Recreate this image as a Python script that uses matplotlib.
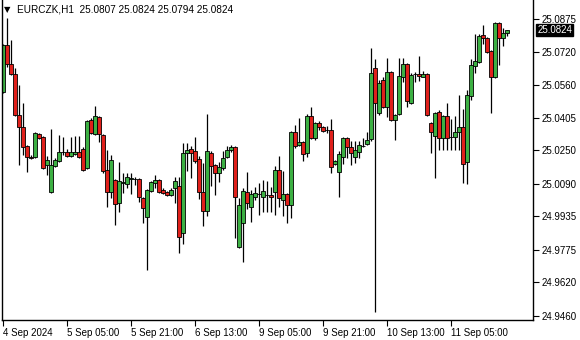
import matplotlib
matplotlib.use("Agg")
import matplotlib.pyplot as plt
import numpy as np

# EURCZK H1 candles, 4 Sep 13:00 .. 11 Sep 19:00
opens = [25.0527, 25.0751, 25.0661, 25.0613, 25.0418, 25.0361, 25.0270, 25.0218, 25.0218, 25.0327,
         25.0313, 25.0180, 25.0051, 25.0175, 25.0199, 25.0241, 25.0241, 25.0222, 25.0232, 25.0241,
         25.0256, 25.0165, 25.0394, 25.0327, 25.0408, 25.0322, 25.0156, 25.0051, 25.0108, 24.9998,
         25.0094, 25.0089, 25.0113, 25.0113, 25.0113, 25.0022, 24.9932, 25.0056, 25.0094, 25.0108,
         25.0060, 25.0051, 25.0037, 25.0070, 25.0079, 24.9856, 25.0237, 25.0256, 25.0246, 25.0208,
         25.0051, 24.9960, 25.0237, 25.0180, 25.0141, 25.0165, 25.0218, 25.0251, 25.0265, 24.9789,
         24.9903, 25.0051, 24.9979, 25.0027, 25.0041, 25.0027, 25.0037, 25.0037, 25.0051, 25.0156,
         25.0013, 25.0041, 24.9989, 25.0337, 25.0275, 25.0289, 25.0237, 25.0413, 25.0308, 25.0380,
         25.0361, 25.0346, 25.0346, 25.0184, 25.0146, 25.0218, 25.0308, 25.0265, 25.0218, 25.0241,
         25.0270, 25.0280, 25.0303, 25.0642, 25.0427, 25.0584, 25.0456, 25.0623, 25.0394, 25.0422,
         25.0599, 25.0661, 25.0475, 25.0613, 25.0613, 25.0599, 25.0613, 25.0380, 25.0318, 25.0432,
         25.0308, 25.0413, 25.0313, 25.0313, 25.0337, 25.0361, 25.0194, 25.0508, 25.0651, 25.0670,
         25.0799, 25.0784, 25.0723, 25.0599, 25.0856, 25.0784, 25.0807]
highs = [25.0756, 25.0880, 25.0775, 25.0642, 25.0561, 25.0475, 25.0275, 25.0227, 25.0337, 25.0332,
         25.0318, 25.0222, 25.0351, 25.0213, 25.0322, 25.0313, 25.0256, 25.0313, 25.0318, 25.0318,
         25.0265, 25.0394, 25.0403, 25.0461, 25.0413, 25.0327, 25.0251, 25.0227, 25.0113, 25.0194,
         25.0141, 25.0141, 25.0141, 25.0122, 25.0118, 25.0027, 25.0065, 25.0103, 25.0132, 25.0113,
         25.0070, 25.0056, 25.0070, 25.0122, 25.0122, 25.0284, 25.0284, 25.0270, 25.0313, 25.0222,
         25.0189, 25.0422, 25.0246, 25.0184, 25.0194, 25.0246, 25.0270, 25.0275, 25.0270, 25.0022,
         25.0070, 25.0146, 25.0060, 25.0075, 25.0094, 25.0108, 25.0103, 25.0075, 25.0175, 25.0222,
         25.0151, 25.0046, 25.0341, 25.0370, 25.0403, 25.0294, 25.0422, 25.0456, 25.0384, 25.0389,
         25.0365, 25.0365, 25.0399, 25.0203, 25.0246, 25.0313, 25.0313, 25.0294, 25.0294, 25.0294,
         25.0308, 25.0337, 25.0737, 25.0684, 25.0584, 25.0599, 25.0689, 25.0627, 25.0422, 25.0689,
         25.0689, 25.0665, 25.0618, 25.0623, 25.0699, 25.0628, 25.0618, 25.0384, 25.0432, 25.0442,
         25.0418, 25.0475, 25.0399, 25.0413, 25.0513, 25.0446, 25.0537, 25.0684, 25.0804, 25.0804,
         25.0846, 25.0789, 25.0728, 25.0861, 25.0861, 25.0832, 25.0824]
lows = [25.0522, 25.0646, 25.0608, 25.0413, 25.0180, 25.0227, 25.0146, 25.0208, 25.0213, 25.0303,
        25.0160, 25.0132, 25.0046, 25.0170, 25.0194, 25.0227, 25.0218, 25.0218, 25.0227, 25.0213,
        25.0151, 25.0160, 25.0327, 25.0322, 25.0289, 25.0141, 24.9979, 25.0022, 24.9894, 24.9956,
        25.0046, 25.0070, 25.0041, 25.0084, 25.0003, 24.9903, 24.9679, 25.0051, 25.0070, 25.0046,
        25.0041, 25.0032, 25.0032, 24.9998, 24.9760, 24.9803, 25.0151, 25.0118, 25.0189, 25.0018,
        24.9889, 24.9937, 25.0079, 25.0037, 25.0098, 25.0156, 25.0213, 25.0241, 24.9832, 24.9784,
        24.9717, 24.9970, 24.9908, 25.0013, 24.9941, 24.9956, 24.9956, 24.9956, 24.9941, 24.9979,
        24.9937, 24.9903, 24.9927, 25.0260, 25.0270, 25.0199, 25.0218, 25.0303, 25.0299, 25.0346,
        25.0337, 25.0332, 25.0141, 25.0180, 25.0027, 25.0184, 25.0213, 25.0180, 25.0189, 25.0213,
        25.0265, 25.0275, 25.0294, 24.9479, 25.0418, 25.0451, 25.0408, 25.0389, 25.0299, 25.0418,
        25.0575, 25.0456, 25.0470, 25.0575, 25.0580, 25.0599, 25.0413, 25.0237, 25.0118, 25.0251,
        25.0251, 25.0251, 25.0251, 25.0251, 25.0251, 25.0094, 25.0089, 25.0489, 25.0618, 25.0665,
        25.0756, 25.0713, 25.0427, 25.0594, 25.0656, 25.0746, 25.0794]
closes = [25.0751, 25.0661, 25.0613, 25.0418, 25.0361, 25.0265, 25.0218, 25.0213, 25.0332, 25.0308,
          25.0165, 25.0203, 25.0180, 25.0203, 25.0241, 25.0242, 25.0222, 25.0241, 25.0241, 25.0218,
          25.0156, 25.0389, 25.0332, 25.0413, 25.0327, 25.0151, 25.0051, 25.0203, 24.9994, 25.0103,
          25.0098, 25.0122, 25.0118, 25.0112, 25.0027, 24.9975, 25.0060, 25.0098, 25.0108, 25.0051,
          25.0046, 25.0037, 25.0060, 25.0103, 24.9836, 25.0237, 25.0251, 25.0237, 25.0199, 25.0051,
          24.9960, 25.0246, 25.0175, 25.0141, 25.0170, 25.0213, 25.0251, 25.0265, 25.0027, 24.9989,
          25.0056, 24.9998, 25.0041, 25.0046, 25.0042, 25.0056, 25.0036, 25.0027, 25.0156, 25.0022,
          25.0041, 24.9989, 25.0337, 25.0270, 25.0289, 25.0232, 25.0413, 25.0308, 25.0380, 25.0361,
          25.0341, 25.0347, 25.0170, 25.0199, 25.0232, 25.0308, 25.0265, 25.0237, 25.0251, 25.0275,
          25.0271, 25.0299, 25.0618, 25.0475, 25.0570, 25.0456, 25.0623, 25.0394, 25.0418, 25.0603,
          25.0661, 25.0484, 25.0608, 25.0612, 25.0603, 25.0613, 25.0418, 25.0337, 25.0427, 25.0308,
          25.0413, 25.0308, 25.0312, 25.0337, 25.0361, 25.0184, 25.0513, 25.0656, 25.0675, 25.0794,
          25.0784, 25.0718, 25.0599, 25.0856, 25.0784, 25.0808, 25.0824]

time_label_bars = [0, 16, 32, 48, 64, 80, 96, 112]
time_labels = ["4 Sep 2024", "5 Sep 05:00", "5 Sep 21:00", "6 Sep 13:00",
               "9 Sep 05:00", "9 Sep 21:00", "10 Sep 13:00", "11 Sep 05:00"]
price_ticks = [25.0875, 25.0720, 25.0560, 25.0405, 25.0250, 25.0090,
               24.9935, 24.9775, 24.9620, 24.9460]
last_price = 25.0824
header = "EURCZK,H1  25.0807 25.0824 25.0794 25.0824"

BULL = "#3cb043"
BEAR = "#e0201b"
FONT = "Liberation Sans"

o = np.array(opens)
h = np.array(highs)
l = np.array(lows)
c = np.array(closes)
x = np.arange(len(o))

plt.rcParams["font.family"] = [FONT, "DejaVu Sans"]

fig = plt.figure(figsize=(5.8, 3.4), dpi=100)
ax = fig.add_axes([2 / 580, 20 / 340, 531 / 580, 320 / 340])

# wicks then bodies
ax.vlines(x, l, h, color="black", linewidth=0.9, zorder=1)
body_col = [BULL if cc >= oo else BEAR for oo, cc in zip(o, c)]
ax.bar(x, np.abs(c - o), bottom=np.minimum(o, c), width=0.78,
       color=body_col, edgecolor="black", linewidth=0.6, zorder=2)

ax.set_xlim(-0.25, 132.5)
ax.set_ylim(24.9441, 25.0966)

ax.spines["top"].set_visible(False)
for s in ["left", "right", "bottom"]:
    ax.spines[s].set_linewidth(1.0)

ax.yaxis.tick_right()
ax.set_yticks(price_ticks)
ax.set_yticklabels([f"{p:.4f}" for p in price_ticks])
ax.set_xticks(time_label_bars)
ax.set_xticklabels(time_labels, ha="left")
ax.tick_params(axis="both", length=4, width=0.8, pad=2, labelsize=7)

# current price box
ax.annotate(f"{last_price:.4f}", xy=(1.0, last_price), xycoords=("axes fraction", "data"),
            xytext=(3, 0), textcoords="offset points", va="center", ha="left",
            fontsize=7, color="white",
            bbox=dict(boxstyle="square,pad=0.12", fc="black", ec="black"))

# header
fig.text(4 / 580, 1 - 10 / 340, "\u25bc", fontsize=6, va="center", ha="left",
         family="DejaVu Sans")
fig.text(17 / 580, 1 - 10 / 340, header, fontsize=7.2, va="center", ha="left")

fig.savefig("out.png", dpi=100)
